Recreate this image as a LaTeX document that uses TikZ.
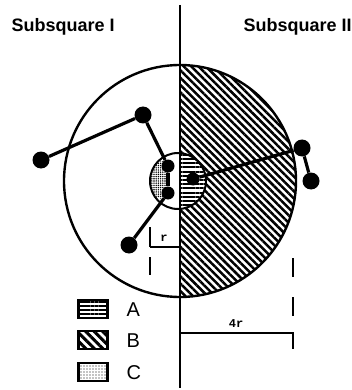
\documentclass[tikz,border=0pt]{standalone}
\usepackage{fontspec}
\setmainfont{Liberation Sans}
\newfontfamily\monofnt{Liberation Mono}
\usetikzlibrary{patterns.meta}
\begin{document}
\begin{tikzpicture}[x=1pt,y=-1pt,
  conn/.style={line width=3.2pt},
  dotbig/.style={circle,fill=black,inner sep=0pt,minimum size=17pt},
  dotsmall/.style={circle,fill=black,inner sep=0pt,minimum size=13pt},
  hatchB/.style={pattern={Lines[angle=-45,distance=5.2pt,line width=2.5pt]}},
  hatchA/.style={pattern={Lines[angle=0,distance=4.2pt,line width=2pt]}},
  stipC/.style={pattern={Dots[distance=2.2pt,radius=0.8pt]}},
  stipL/.style={pattern={Dots[distance=3pt,radius=0.6pt]}},
  legbox/.style={draw,line width=2.2pt,minimum width=29pt,minimum height=18pt,inner sep=0pt},
  lab/.style={font=\fontsize{20}{20}\selectfont,anchor=west},
  title/.style={font=\bfseries\fontsize{18}{18}\selectfont,anchor=base west},
  dim/.style={line width=2pt},
]
\useasboundingbox (0,0) rectangle (352,390);
% region B and A
\begin{scope}
  \clip (180,0) rectangle (352,390);
  \fill[hatchB] (180,181) circle[radius=116pt];
  \fill[white] (178,181) circle[radius=28pt];
  \fill[hatchA] (178,181) circle[radius=28pt];
\end{scope}
% region C
\begin{scope}
  \clip (178,181) circle[radius=28pt];
  \clip (120,0) rectangle (169,390);
  \fill[stipC] (164,180) ellipse[x radius=16pt, y radius=19pt];
\end{scope}
% circles and divider
\draw[line width=2.4pt] (180,181) circle[radius=116pt];
\draw[line width=2pt] (178,181) circle[radius=28pt];
\draw[line width=1.8pt] (180,5) -- (180,388);
% titles
\node[title] (t1) at (8,32) {Subsquare I};
\node[title] (t2) at (240,32) {Subsquare II};
% nodes
\node[dotbig] (p1) at (41,160) {};
\node[dotbig] (p2) at (143,115) {};
\node[dotsmall] (p3) at (168,166) {};
\node[dotsmall] (p4) at (168,193) {};
\node[dotbig] (p5) at (129,245) {};
\node[dotsmall] (p6) at (193,179) {};
\node[dotbig] (p7) at (302,148) {};
\node[dotbig] (p8) at (311,181) {};
\draw[conn] (p1) -- (p2);
\draw[conn] (p2) -- (p3);
\draw[conn] (p3) -- (p4);
\draw[conn] (p4) -- (p5);
\draw[conn] (p6) -- (p7);
\draw[conn] (p7) -- (p8);
% r dimension
\coordinate (r1) at (150,247);
\coordinate (r2) at (180,247);
\draw[dim] (r1) -- (r2);
\draw[dim,dash pattern=on 20pt off 10pt] (150,227) -- (150,275);
\node[font=\monofnt\bfseries\fontsize{12}{12}\selectfont] (rl) at (164,238) {r};
% 4r dimension
\coordinate (q1) at (180,333);
\coordinate (q2) at (294,333);
\draw[dim] (q1) -- (q2);
\draw[dim,dash pattern=on 19pt off 20pt] (293,258) -- (293,316);
\draw[dim] (293,333) -- (293,349);
\node[font=\monofnt\bfseries\fontsize{12}{12}\selectfont] (ql) at (236,324) {4r};
% legend
\node[legbox,hatchA] (la) at (93,309) {};
\node[legbox,pattern={Lines[angle=-45,distance=6pt,line width=3pt]}] (lb) at (93,340) {};
\node[legbox,stipL] (lc) at (93,372) {};
\node[lab] (ta) at (123,310) {A};
\node[lab] (tb) at (123,341) {B};
\node[lab] (tc) at (123,373) {C};
\end{tikzpicture}
\end{document}
